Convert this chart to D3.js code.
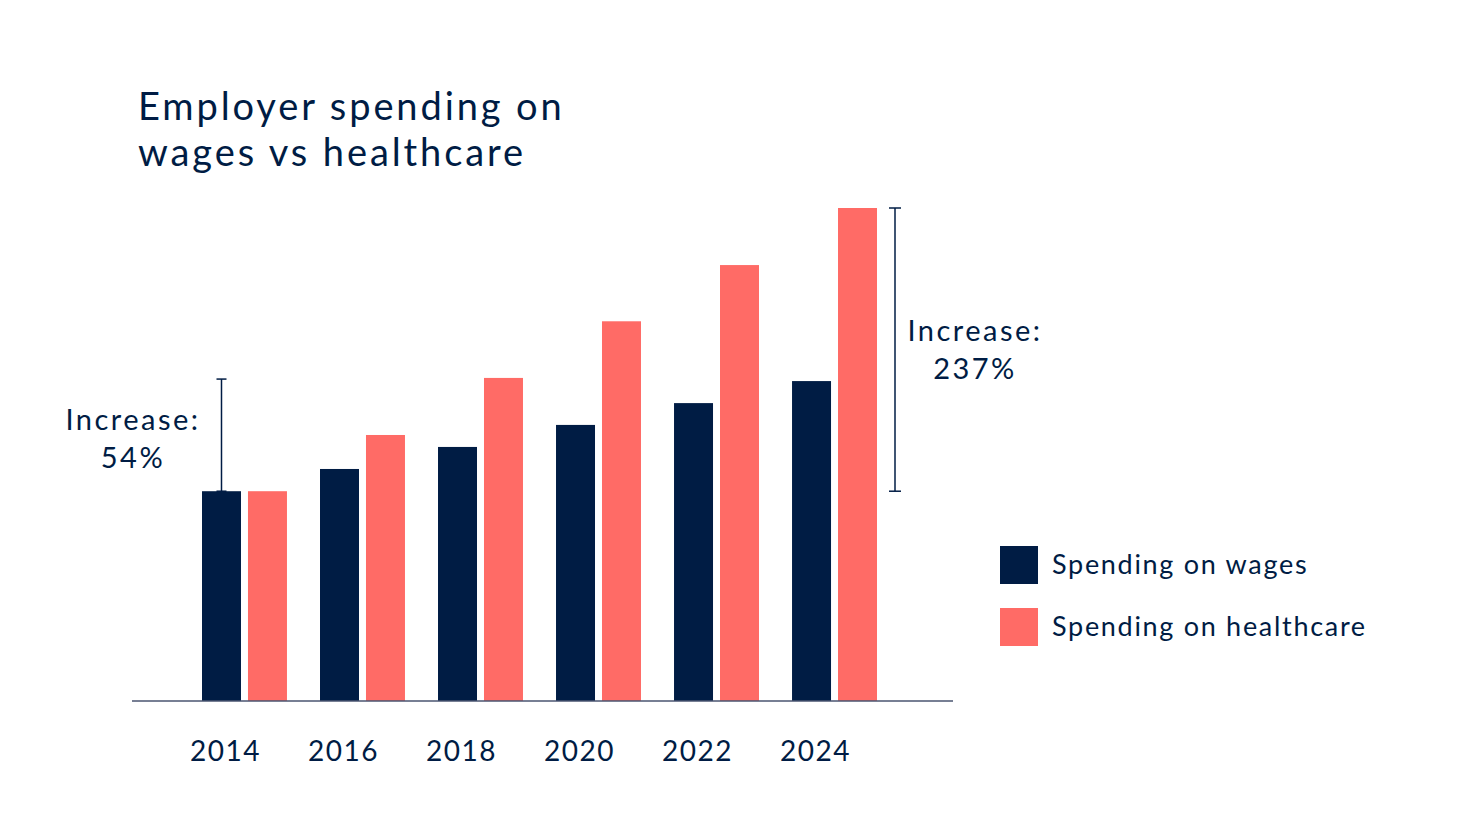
<!DOCTYPE html>
<html>
<head>
<meta charset="utf-8">
<script src="https://cdn.jsdelivr.net/npm/d3@7"></script>
<style>
  body { margin: 0; background: #fff; }
  text { font-family: Lato, "Noto Sans", sans-serif; fill: #001c44; }
</style>
</head>
<body>
<svg id="svg1" width="1460" height="831"></svg>
<script>
var years = ["2014", "2016", "2018", "2020", "2022", "2024"];
var series = ["wages", "healthcare"];
var wages = [100, 110.6, 121.1, 131.6, 142, 152.5];
var healthcare = [100, 126.8, 154, 181, 207.8, 235];
var legendLabels = ["Spending on wages", "Spending on healthcare"];
var colors = ["#001c44", "#ff6b66"];

var svg1 = d3.select("#svg1");
var navy = "#001c44";

var x0 = d3.scaleBand().domain(years).range([202, 877]).paddingInner(0.28).paddingOuter(0);
var x1 = d3.scaleBand().domain(series).range([0, x0.bandwidth()]).paddingInner(0.152);
var y = d3.scaleLinear().domain([0, 235]).range([701, 208]);

// title
var title = svg1.append("text").attr("x", 138).attr("y", 120)
  .style("font-size", "38px").style("letter-spacing", "2.9px");
title.append("tspan").attr("x", 138).text("Employer spending on");
title.append("tspan").attr("x", 138).attr("dy", 46).text("wages vs healthcare");

// bars
var rows = years.map(function(d, i) { return {year: d, values: [wages[i], healthcare[i]]}; });
var g = svg1.append("g");
var groups = g.selectAll("g.year").data(rows).enter().append("g")
  .attr("transform", function(d) { return "translate(" + x0(d.year) + ",0)"; });
groups.selectAll("rect").data(function(d) { return d.values; }).enter().append("rect")
  .attr("x", function(d, i) { return x1(series[i]); })
  .attr("y", function(d) { return y(d); })
  .attr("width", x1.bandwidth())
  .attr("height", function(d) { return y(0) - y(d); })
  .attr("fill", function(d, i) { return colors[i]; });

// baseline
svg1.append("line").attr("x1", 132).attr("x2", 953).attr("y1", y(0)).attr("y2", y(0))
  .attr("stroke", "#4a5570").attr("stroke-width", 1.5);

// year labels
svg1.append("g").selectAll("text").data(years).enter().append("text")
  .attr("x", function(d) { return x0(d) + x0.bandwidth() / 2 - 19; })
  .attr("y", 761)
  .attr("text-anchor", "middle")
  .style("font-size", "28px").style("letter-spacing", "1.5px")
  .text(function(d) { return d; });

// brackets
function bracket(x, yTop, yBot, cap) {
  var b = svg1.append("g").attr("stroke", navy).attr("stroke-width", 1.5);
  b.append("line").attr("x1", x).attr("x2", x).attr("y1", yTop).attr("y2", yBot);
  b.append("line").attr("x1", x - cap).attr("x2", x + cap).attr("y1", yTop).attr("y2", yTop);
  b.append("line").attr("x1", x - cap).attr("x2", x + cap).attr("y1", yBot).attr("y2", yBot);
}
var leftX = x0(years[0]) + x1("wages") + x1.bandwidth() / 2;
bracket(leftX, y(wages[5]) - 2, y(wages[0]), 5);
var rightX = x0(years[5]) + x0.bandwidth() + 18;
bracket(rightX, y(healthcare[5]), y(healthcare[0]), 6);

function note(cx, yy, pct) {
  var t = svg1.append("text").attr("text-anchor", "middle")
    .style("font-size", "29px").style("letter-spacing", "2.5px");
  t.append("tspan").attr("x", cx).attr("y", yy).text("Increase:");
  t.append("tspan").attr("x", cx).attr("y", yy + 38).text(pct);
}
note(133, 430, "54%");
note(975, 341, "237%");

// legend
var leg = svg1.append("g").selectAll("g").data(legendLabels).enter().append("g")
  .attr("transform", function(d, i) { return "translate(1000," + (546 + i * 62) + ")"; });
leg.append("rect").attr("width", 38).attr("height", 38)
  .attr("fill", function(d, i) { return colors[i]; });
leg.append("text").attr("x", 52).attr("y", 28).style("font-size", "27px")
  .style("letter-spacing", "1.7px")
  .text(function(d) { return d; });
</script>
</body>
</html>
